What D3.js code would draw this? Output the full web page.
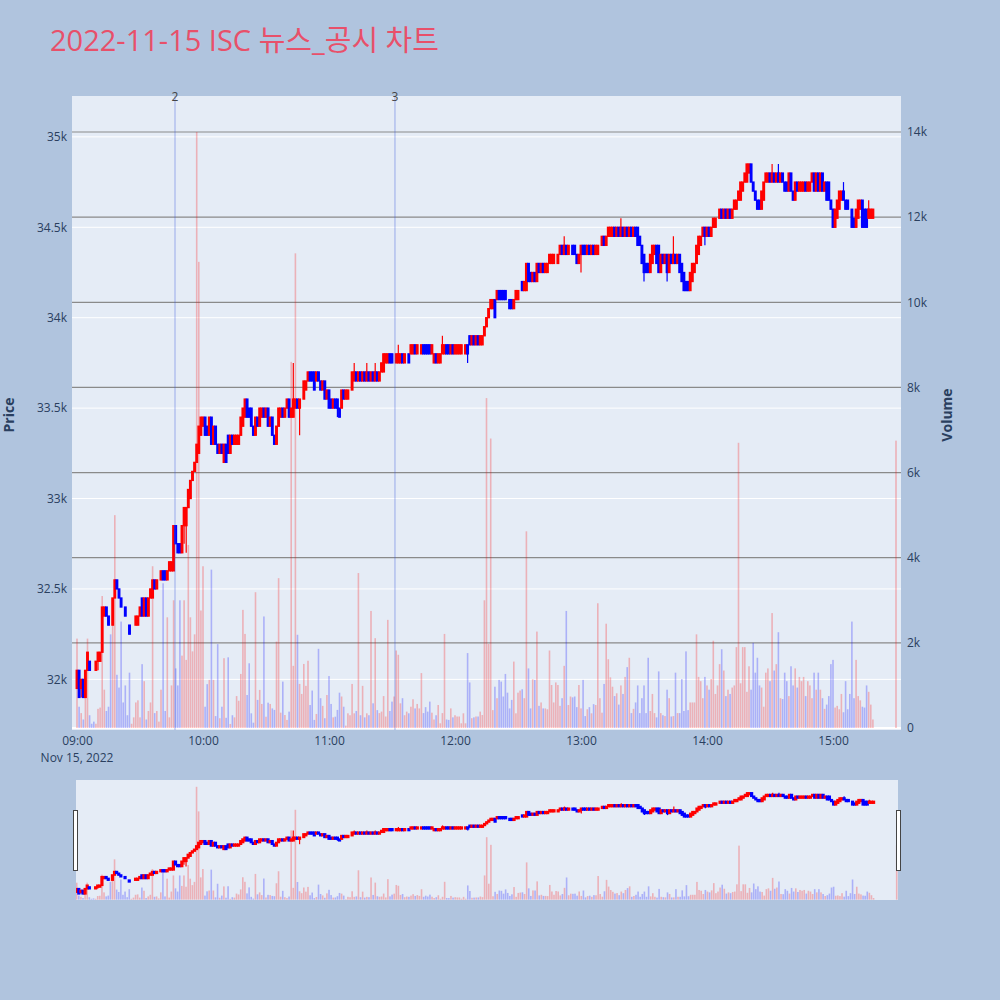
<!DOCTYPE html>
<html><head><meta charset="utf-8">
<script src="https://cdn.jsdelivr.net/npm/d3@7"></script>
<style>body{margin:0;background:#b0c4de}svg{display:block}</style>
</head><body><svg id="c" width="1000" height="1000"></svg>
<script>
// ---- data (1-minute candles, 2022-11-15 09:00 .. 15:19, plus 15:30 close) ----
const opens=[
31950,32050,31950,32000,31900,32050,32100,32050,32050,32050,
32100,32100,32150,32350,32400,32350,32300,32300,32450,32550,
32500,32450,32400,32400,32350,32300,32300,32300,32300,32300,
32350,32450,32350,32450,32350,32450,32450,32550,32500,32550,
32550,32600,32600,32550,32600,32600,32600,32850,32750,32750,
32700,32850,32850,32950,33000,33100,33150,33200,33250,33350,
33400,33450,33400,33350,33450,33300,33400,33300,33250,33300,
33200,33300,33350,33250,33350,33300,33300,33300,33350,33400,
33450,33550,33500,33500,33400,33350,33450,33400,33450,33500,
33450,33500,33400,33450,33350,33300,33400,33450,33500,33450,
33500,33550,33450,33450,33500,33550,33500,33550,33550,33600,
33650,33700,33700,33700,33650,33700,33650,33600,33650,33550,
33600,33550,33500,33550,33550,33500,33500,33600,33550,33550,
33600,33600,33650,33700,33650,33700,33650,33700,33650,33700,
33650,33700,33650,33700,33650,33700,33700,33750,33750,33800,
33800,33800,33750,33750,33750,33800,33750,33800,33800,33800,
33800,33850,33800,33850,33800,33850,33850,33850,33850,33800,
33750,33800,33750,33750,33800,33800,33850,33850,33800,33850,
33800,33800,33800,33800,33850,33800,33850,33900,33850,33900,
33850,33900,33850,33850,33900,33950,34000,34050,34050,34100,
34100,34150,34150,34150,34150,34100,34100,34100,34050,34100,
34100,34150,34200,34150,34150,34300,34250,34200,34250,34200,
34300,34250,34300,34250,34250,34300,34300,34300,34350,34300,
34350,34400,34350,34400,34350,34400,34400,34400,34350,34300,
34350,34400,34400,34350,34400,34350,34400,34350,34350,34400,
34400,34450,34400,34450,34450,34450,34500,34450,34500,34450,
34500,34450,34500,34450,34500,34450,34500,34500,34450,34400,
34350,34300,34300,34250,34300,34350,34400,34400,34250,34350,
34300,34350,34250,34350,34300,34350,34300,34350,34300,34250,
34200,34200,34150,34200,34250,34300,34350,34400,34450,34500,
34450,34500,34450,34500,34500,34550,34550,34600,34550,34600,
34550,34600,34550,34600,34600,34650,34650,34700,34750,34750,
34800,34850,34750,34700,34650,34650,34600,34650,34750,34750,
34800,34750,34800,34750,34800,34750,34800,34750,34750,34700,
34800,34700,34650,34750,34700,34700,34700,34750,34700,34700,
34750,34800,34700,34800,34700,34800,34700,34750,34750,34650,
34600,34500,34550,34600,34650,34700,34650,34650,34600,34600,
34550,34500,34550,34600,34650,34600,34600,34550,34550,34550,
34700];
const highs=[
32050,32050,32000,32000,32050,32150,32100,32050,32050,32100,
32150,32150,32400,32400,32400,32350,32300,32450,32550,32550,
32500,32450,32400,32400,32350,32300,32300,32300,32350,32350,
32400,32450,32450,32450,32450,32500,32550,32550,32550,32550,
32600,32600,32600,32600,32650,32650,32850,32850,32750,32750,
32850,32950,32950,33050,33100,33150,33200,33300,33400,33450,
33450,33450,33400,33450,33450,33400,33400,33300,33300,33300,
33300,33300,33350,33350,33350,33350,33350,33350,33450,33500,
33550,33550,33500,33500,33400,33450,33450,33500,33500,33500,
33500,33500,33450,33450,33350,33400,33500,33500,33500,33500,
33550,33550,33500,33750,33550,33550,33550,33550,33650,33650,
33700,33700,33700,33700,33700,33700,33650,33650,33650,33600,
33600,33550,33550,33550,33550,33500,33600,33600,33600,33600,
33600,33700,33750,33700,33700,33700,33700,33700,33750,33700,
33700,33700,33750,33700,33700,33750,33800,33800,33800,33800,
33800,33800,33800,33850,33800,33800,33800,33800,33800,33850,
33850,33850,33850,33850,33850,33850,33850,33850,33850,33850,
33800,33800,33800,33800,33900,33850,33850,33850,33850,33850,
33850,33850,33850,33850,33850,33850,33850,33900,33900,33900,
33900,33900,33900,33900,33950,34000,34050,34100,34100,34100,
34150,34150,34150,34150,34150,34100,34100,34100,34100,34150,
34150,34150,34200,34200,34300,34300,34250,34250,34250,34300,
34300,34300,34300,34300,34300,34350,34350,34350,34350,34350,
34400,34400,34450,34400,34400,34400,34400,34400,34350,34350,
34400,34400,34400,34400,34400,34400,34400,34400,34400,34400,
34450,34450,34450,34500,34500,34500,34500,34500,34500,34550,
34500,34500,34500,34500,34500,34500,34500,34500,34450,34400,
34350,34300,34300,34350,34400,34400,34400,34400,34350,34350,
34350,34350,34350,34350,34450,34350,34350,34350,34300,34250,
34200,34200,34250,34300,34300,34400,34450,34450,34500,34500,
34500,34500,34500,34550,34550,34550,34600,34600,34600,34600,
34600,34600,34600,34650,34650,34700,34750,34750,34800,34850,
34850,34850,34750,34700,34650,34650,34700,34750,34800,34800,
34800,34850,34800,34800,34850,34800,34800,34750,34750,34800,
34800,34700,34750,34750,34750,34750,34750,34750,34750,34750,
34800,34800,34800,34800,34800,34800,34750,34750,34750,34650,
34600,34600,34650,34700,34700,34750,34650,34650,34600,34600,
34550,34600,34650,34650,34650,34600,34600,34650,34600,34600,
34700];
const lows=[
31950,31900,31900,31900,31900,32050,32050,32050,32050,32050,
32050,32100,32150,32350,32350,32300,32300,32300,32450,32500,
32450,32400,32400,32350,32350,32250,32300,32300,32300,32300,
32350,32350,32350,32350,32350,32450,32450,32500,32500,32550,
32550,32550,32550,32550,32600,32600,32600,32750,32700,32700,
32700,32750,32700,32950,33000,33100,33150,33200,33250,33350,
33400,33350,33350,33350,33300,33300,33300,33250,33250,33250,
33200,33200,33250,33250,33300,33300,33300,33300,33350,33400,
33450,33450,33450,33400,33350,33350,33400,33400,33450,33450,
33450,33400,33400,33350,33300,33300,33400,33450,33450,33450,
33500,33450,33450,33450,33500,33500,33350,33550,33550,33600,
33650,33650,33650,33600,33650,33650,33600,33600,33550,33550,
33500,33500,33500,33500,33450,33450,33500,33550,33550,33550,
33600,33600,33650,33650,33650,33650,33650,33650,33650,33650,
33650,33650,33650,33650,33650,33700,33700,33750,33750,33750,
33750,33800,33750,33750,33750,33750,33750,33800,33750,33800,
33800,33800,33800,33850,33800,33800,33800,33800,33800,33800,
33750,33750,33750,33750,33800,33800,33800,33800,33800,33800,
33800,33800,33800,33800,33850,33800,33750,33850,33850,33850,
33850,33850,33850,33850,33900,33950,34000,34050,34050,34000,
34100,34100,34100,34100,34100,34100,34050,34050,34050,34100,
34100,34150,34150,34150,34150,34200,34200,34200,34200,34200,
34250,34250,34250,34250,34250,34300,34300,34300,34350,34300,
34350,34350,34350,34350,34350,34400,34350,34350,34300,34300,
34250,34350,34350,34350,34350,34350,34350,34350,34350,34400,
34400,34400,34400,34450,34450,34450,34450,34450,34450,34450,
34450,34450,34450,34450,34450,34450,34450,34400,34400,34300,
34200,34250,34250,34250,34300,34350,34300,34250,34250,34300,
34300,34200,34250,34300,34300,34300,34300,34250,34200,34150,
34150,34150,34150,34200,34250,34300,34350,34400,34450,34400,
34450,34450,34450,34500,34500,34550,34550,34550,34550,34550,
34550,34550,34550,34600,34600,34650,34650,34700,34750,34750,
34800,34750,34700,34650,34600,34600,34600,34650,34750,34750,
34750,34750,34750,34750,34750,34750,34750,34700,34700,34700,
34700,34650,34650,34700,34700,34700,34700,34700,34700,34700,
34750,34700,34700,34700,34700,34700,34700,34650,34650,34600,
34500,34500,34550,34600,34650,34650,34600,34600,34600,34500,
34500,34500,34550,34600,34500,34500,34500,34550,34550,34550,
34700];
const closes=[
32050,31900,32000,31900,32050,32150,32050,32050,32050,32100,
32150,32150,32400,32400,32350,32300,32300,32450,32550,32500,
32450,32400,32400,32350,32350,32250,32300,32300,32350,32350,
32400,32350,32450,32350,32450,32500,32550,32500,32550,32550,
32600,32550,32550,32600,32650,32650,32850,32750,32700,32700,
32850,32950,32950,33050,33100,33150,33200,33300,33400,33450,
33450,33350,33350,33450,33300,33400,33300,33250,33300,33250,
33300,33200,33250,33350,33300,33350,33350,33350,33450,33500,
33550,33450,33450,33400,33350,33450,33400,33500,33500,33450,
33500,33400,33450,33350,33300,33400,33500,33500,33450,33500,
33550,33450,33500,33550,33550,33500,33550,33550,33650,33650,
33700,33650,33650,33600,33700,33650,33600,33650,33550,33600,
33500,33500,33550,33500,33500,33450,33600,33550,33600,33600,
33600,33700,33700,33650,33700,33650,33700,33650,33700,33650,
33700,33650,33700,33650,33700,33750,33800,33800,33800,33750,
33750,33800,33800,33800,33800,33750,33800,33800,33750,33850,
33850,33800,33850,33850,33850,33800,33800,33800,33800,33850,
33800,33750,33800,33800,33850,33850,33800,33800,33850,33800,
33850,33850,33850,33850,33850,33850,33800,33850,33900,33850,
33900,33850,33900,33900,33950,34000,34050,34100,34100,34000,
34150,34100,34100,34100,34100,34100,34050,34050,34100,34150,
34150,34150,34150,34200,34300,34200,34200,34250,34200,34300,
34250,34300,34250,34300,34300,34350,34350,34350,34350,34350,
34400,34350,34400,34350,34400,34400,34350,34350,34300,34350,
34400,34350,34350,34400,34350,34400,34350,34400,34400,34400,
34450,34400,34450,34500,34500,34500,34450,34500,34450,34500,
34450,34500,34450,34500,34450,34500,34450,34400,34400,34300,
34250,34250,34250,34350,34400,34400,34300,34250,34350,34300,
34350,34250,34350,34300,34350,34300,34350,34250,34200,34150,
34150,34150,34250,34300,34300,34400,34450,34450,34500,34450,
34500,34450,34500,34550,34550,34550,34600,34550,34600,34550,
34600,34550,34600,34650,34650,34700,34750,34750,34800,34850,
34850,34750,34700,34650,34600,34600,34700,34750,34800,34800,
34750,34800,34750,34800,34750,34800,34750,34700,34700,34800,
34700,34650,34750,34700,34750,34750,34750,34700,34750,34750,
34800,34700,34800,34700,34800,34700,34750,34650,34650,34600,
34500,34600,34650,34700,34700,34650,34600,34600,34600,34500,
34500,34600,34650,34650,34500,34500,34500,34600,34600,34600,
34700];
const volumes=[
2100,500,350,200,900,2100,300,100,150,100,
450,480,3100,900,400,500,2200,2700,5000,1250,
950,2500,600,1000,300,1300,100,250,600,650,
250,1500,1100,200,400,600,3800,350,400,150,
900,3400,400,2600,250,1000,3000,1400,1000,3000,
1700,3000,1600,4300,2600,1800,2200,14000,10950,2760,
3800,500,1030,1130,3720,1130,280,1970,230,500,
1640,240,1660,95,300,250,750,640,1270,2775,
2210,775,1520,345,125,3190,660,895,565,2620,
265,595,565,460,425,2030,3520,360,1090,305,
190,385,8600,1460,11150,2190,1035,800,1505,990,
1580,540,880,190,330,1860,700,520,230,775,
1220,565,250,265,425,830,740,500,55,345,
300,1035,345,400,3640,300,990,250,345,300,
2750,580,2110,420,350,385,750,270,2540,400,
620,740,1820,1720,580,700,300,385,345,500,
675,460,565,460,1290,350,490,385,620,360,
200,300,540,110,350,2210,200,190,460,250,
300,270,270,110,345,110,1760,1070,230,250,
270,270,385,305,3000,7750,1975,6800,420,970,
700,1130,1090,740,1270,830,460,660,1560,345,
830,880,910,700,4620,1400,460,1145,1130,2265,
520,600,460,460,440,1820,1010,600,1070,1010,
520,700,1460,2750,540,740,720,740,490,1010,
460,1130,280,440,490,345,560,540,2930,700,
360,1035,2450,1615,1190,970,750,815,550,1000,
800,1200,1430,1650,350,450,600,1000,350,700,
1000,350,1650,400,800,350,250,1330,350,300,
280,900,700,270,280,1300,350,350,1150,400,
1800,420,600,600,600,2200,1200,1100,700,1200,
1000,900,1150,2050,800,1000,1500,1850,1350,750,
900,800,950,1000,1900,6700,1050,1900,1900,850,
1450,900,2000,1300,1650,1000,950,500,1300,1400,
1100,2700,1350,1500,2250,700,680,1300,1100,750,
1450,1000,1400,950,1200,1100,1200,750,1100,1000,
700,1300,900,1300,900,700,450,550,750,1500,
1600,480,520,440,800,370,1100,440,800,2500,
700,1600,750,650,500,480,1000,850,550,200,
6750];
const priceTicks=[32000,32500,33000,33500,34000,34500,35000];
const volumeTicks=[0,2000,4000,6000,8000,10000,12000,14000];
const newsTimes=["2022-11-15 09:46:40","2022-11-15 11:31:25"];
const newsLabels=["2","3"];
const titleText="2022-11-15 ISC 뉴스_공시 차트";

// ---- setup ----
const parse=d3.timeParse("%Y-%m-%d %H:%M:%S");
const times=d3.timeMinute.range(parse("2022-11-15 09:00:00"),parse("2022-11-15 15:20:00"));
times.push(parse("2022-11-15 15:30:00"));
const UP="#ff0000", DOWN="#0000ff", FONT="'Open Sans','Noto Sans CJK KR',sans-serif", TXT="#2a3f5f";
const dirs=[];
closes.forEach((c,i)=>{const o=opens[i];let d;
  if(c>o)d=1;else if(c<o)d=-1;else if(i>0&&c>closes[i-1])d=1;else if(i>0&&c<closes[i-1])d=-1;else d=i>0?dirs[i-1]:1;
  dirs.push(d);});
const col=i=>dirs[i]>0?UP:DOWN;

const svg=d3.select("#c");
svg.append("rect").attr("width",1000).attr("height",1000).attr("fill","#b0c4de");

const P={l:72,r:901,t:96,b:730};
const x=d3.scaleTime().domain([parse("2022-11-15 08:57:37"),parse("2022-11-15 15:32:23")]).range([P.l,P.r]);
const yP=d3.scaleLinear().domain([31720,35226]).range([P.b,P.t]);
const yV=d3.scaleLinear().domain([-47,14846]).range([P.b,P.t]);

const defs=svg.append("defs");
defs.append("clipPath").attr("id","clipMain").append("rect").attr("x",P.l).attr("y",P.t).attr("width",P.r-P.l).attr("height",P.b-P.t);

svg.append("rect").attr("x",P.l).attr("y",P.t).attr("width",P.r-P.l).attr("height",P.b-P.t).attr("fill","#e5ecf6");

// gridlines
const grid=svg.append("g");
grid.selectAll("line.pg").data(priceTicks).join("line").attr("class","pg")
  .attr("x1",P.l).attr("x2",P.r).attr("y1",d=>yP(d)).attr("y2",d=>yP(d)).attr("stroke","#fff").attr("stroke-width",1);
grid.selectAll("line.vg").data(volumeTicks.filter(d=>d>0)).join("line").attr("class","vg")
  .attr("x1",P.l).attr("x2",P.r).attr("y1",d=>yV(d)).attr("y2",d=>yV(d)).attr("stroke","#8a8a8a").attr("stroke-width",1.2);
grid.append("line").attr("x1",P.l).attr("x2",P.r).attr("y1",yV(0)).attr("y2",yV(0)).attr("stroke","#fff").attr("stroke-width",2);

function drawSeries(g,xs,yp,yv,bw,cw,sw){
  g.append("g").selectAll("rect").data(volumes).join("rect")
    .attr("x",(d,i)=>xs(times[i])-bw/2).attr("width",bw)
    .attr("y",d=>yv(d)).attr("height",d=>Math.max(0,yv(0)-yv(d)))
    .attr("fill",(d,i)=>col(i)).attr("opacity",0.25);
  const cg=g.append("g");
  cg.selectAll("line").data(closes).join("line")
    .attr("x1",(d,i)=>xs(times[i])).attr("x2",(d,i)=>xs(times[i]))
    .attr("y1",(d,i)=>yp(highs[i])).attr("y2",(d,i)=>yp(lows[i]))
    .attr("stroke",(d,i)=>col(i)).attr("stroke-width",1.2);
  cg.selectAll("rect").data(closes).join("rect")
    .attr("x",(d,i)=>xs(times[i])-cw/2).attr("width",cw)
    .attr("y",(d,i)=>yp(Math.max(opens[i],d)))
    .attr("height",(d,i)=>Math.abs(yp(opens[i])-yp(d)))
    .attr("fill",(d,i)=>col(i)).attr("stroke",(d,i)=>col(i)).attr("stroke-width",sw);
}

const main=svg.append("g").attr("clip-path","url(#clipMain)");
drawSeries(main,x,yP,yV,1.6,1.6,1.3);

// news markers
const news=svg.append("g");
newsTimes.forEach((t,k)=>{
  const xx=x(parse(t));
  news.append("line").attr("x1",xx).attr("x2",xx).attr("y1",P.t).attr("y2",P.b)
    .attr("stroke","rgba(60,90,220,0.45)").attr("stroke-width",1);
  news.append("text").attr("x",xx).attr("y",P.t+5).attr("text-anchor","middle")
    .attr("font-family",FONT).attr("font-size",12).attr("fill","#444").text(newsLabels[k]);
});

// axes
const fmtK=d3.format("~s");
const axL=svg.append("g").attr("transform",`translate(${P.l-2},0)`)
  .call(d3.axisLeft(yP).tickValues(priceTicks).tickFormat(fmtK).tickSize(0));
const axR=svg.append("g").attr("transform",`translate(${P.r+3},0)`)
  .call(d3.axisRight(yV).tickValues(volumeTicks).tickFormat(fmtK).tickSize(0));
const hourTicks=d3.timeHour.range(parse("2022-11-15 09:00:00"),parse("2022-11-15 15:30:00"));
const axB=svg.append("g").attr("transform",`translate(0,${P.b+2})`)
  .call(d3.axisBottom(x).tickValues(hourTicks).tickFormat(d3.timeFormat("%H:%M")).tickSize(0));
[axL,axR,axB].forEach(a=>{a.select(".domain").remove();
  a.selectAll("text").attr("font-family",FONT).attr("font-size",12).attr("fill",TXT);});
axB.selectAll("text").attr("dy","0.71em").attr("y",4);
svg.append("text").attr("x",x(times[0])).attr("y",762).attr("text-anchor","middle")
  .attr("font-family",FONT).attr("font-size",12).attr("fill",TXT).text(d3.timeFormat("%b %-d, %Y")(times[0]));

svg.append("text").attr("transform","translate(14,415) rotate(-90)").attr("text-anchor","middle")
  .attr("font-family",FONT).attr("font-size",14).attr("font-weight","bold").attr("fill",TXT).text("Price");
svg.append("text").attr("transform","translate(952,415) rotate(-90)").attr("text-anchor","middle")
  .attr("font-family",FONT).attr("font-size",14).attr("font-weight","bold").attr("fill",TXT).text("Volume");

svg.append("text").attr("x",50).attr("y",51).attr("font-family",FONT).attr("font-size",29)
  .attr("fill","#e8506a").text(titleText);

// range slider
const S={l:76,r:898,t:780,b:900};
defs.append("clipPath").attr("id","clipS").append("rect").attr("x",S.l).attr("y",S.t).attr("width",S.r-S.l).attr("height",S.b-S.t);
svg.append("rect").attr("x",S.l).attr("y",S.t).attr("width",S.r-S.l).attr("height",S.b-S.t).attr("fill","#e5ecf6");
const xs=d3.scaleTime().domain([parse("2022-11-15 08:59:40"),parse("2022-11-15 15:30:37")]).range([S.l,S.r]);
const ysP=d3.scaleLinear().domain(yP.domain()).range([S.b,S.t]);
const ysV=d3.scaleLinear().domain(yV.domain()).range([S.b,S.t]);
const sg=svg.append("g").attr("clip-path","url(#clipS)");
drawSeries(sg,xs,ysP,ysV,1.6,1.6,1.6);
[[S.l-2.5],[S.r-1.5]].forEach(([hx])=>{
  svg.append("rect").attr("x",hx).attr("y",810.5).attr("width",4).attr("height",60)
    .attr("fill","#fff").attr("stroke","#444").attr("stroke-width",1);
});
</script>
</body></html>
